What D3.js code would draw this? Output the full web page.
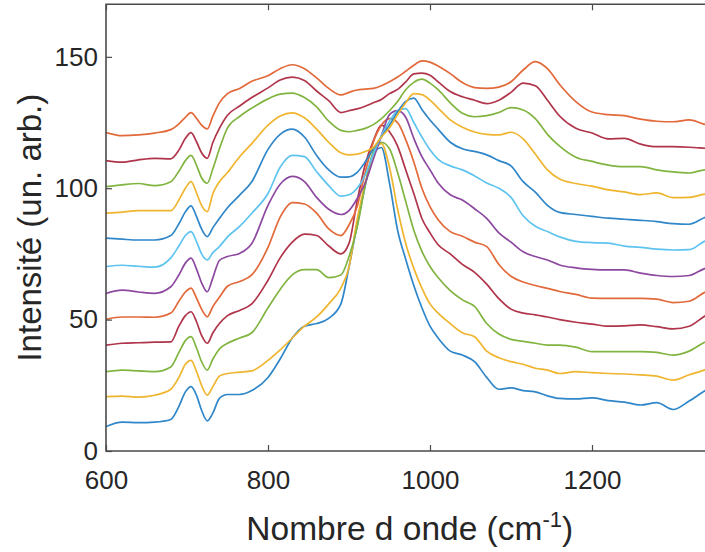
<!DOCTYPE html>
<html>
<head>
<meta charset="utf-8">
<script src="https://cdn.jsdelivr.net/npm/d3@7"></script>
<style>
  html, body { margin: 0; padding: 0; background: #fff; }
  svg { display: block; }
  text { font-family: "Liberation Sans", Arial, Helvetica, sans-serif; fill: #262626; }
</style>
</head>
<body>
<svg id="chart" width="705" height="552"></svg>
<script>
// Wavenumber grid (cm^-1)
const wavenumbers = [600, 620, 640, 660, 680, 690, 698, 705, 712, 718, 725, 732, 740, 750, 765, 780, 800, 815, 830, 845, 860, 875, 890, 900, 910, 920, 930, 940, 950, 960, 970, 980, 990, 1000, 1010, 1025, 1040, 1055, 1070, 1085, 1100, 1115, 1130, 1145, 1160, 1180, 1200, 1220, 1240, 1260, 1280, 1300, 1320, 1340, 1350];

// Spectra, from bottom to top
const s1  = [9.3, 11, 10.8, 11, 12, 17, 22.5, 24.5, 21, 15.5, 11.5, 14.5, 20, 21.5, 21.5, 23, 28, 35, 43, 47.5, 48.5, 50.5, 56, 70, 86, 101, 113, 115.5, 102, 84, 73, 63, 54.5, 47.5, 43, 38, 36.5, 34, 28, 23.5, 24, 23, 22.5, 21, 20, 19.8, 20.2, 19.2, 18.6, 17.5, 18.4, 15.8, 19, 23, 24.5];
const s2  = [20.7, 20.9, 20.5, 21.2, 23.5, 28, 33, 34.5, 30, 25, 21.3, 24.5, 28.5, 29.5, 30, 30.5, 34.5, 38.5, 43, 47.5, 51, 56, 62, 70, 88, 102, 113, 117, 108, 92, 79, 69.5, 62, 56, 52.5, 48.5, 45, 43.5, 38, 35.5, 34, 33, 31.5, 30.8, 29.5, 30.2, 29.8, 29.5, 29.3, 29, 28.5, 27, 29, 31, 32.5];
const s3  = [30.2, 30.8, 30.5, 30.2, 32, 37.5, 42, 43.5, 39, 34, 30.8, 35, 38.8, 41, 43, 45, 54.5, 61.5, 67, 69, 69, 66, 67, 74, 85, 101, 114, 117.5, 115, 106, 95, 84, 76, 70.2, 66, 61, 57.5, 55, 48.5, 44.5, 42.5, 41.7, 41, 40.3, 40.3, 39.5, 37.8, 37.8, 37.8, 37.8, 37.5, 36.5, 38, 41.5, 42.5];
const s4  = [40.3, 41, 41.2, 41.4, 41.5, 47.5, 51.5, 53, 49, 44, 41, 45, 48.5, 51.5, 53.5, 56, 65, 73.5, 79.5, 82.5, 82, 78, 75, 79, 95, 109, 118, 124, 121.5, 116, 107, 98, 88.5, 83, 78.5, 75, 71, 68, 63.5, 58, 54, 52.5, 51.8, 51, 50, 49, 48.3, 47.5, 47.6, 48, 47.3, 46.5, 47.5, 51.5, 53];
const s5  = [50.1, 51, 51, 50.9, 52.5, 57, 60.5, 62, 58, 54, 51.1, 55, 58.5, 62.7, 64.5, 67, 77.5, 89, 94.5, 94, 90.5, 84.5, 82, 86, 93, 106, 117.5, 124, 126.5, 125, 118.5, 110, 100, 93, 88, 83.5, 81.7, 79.5, 77.8, 71, 66.5, 64.3, 63, 61.9, 60.7, 59.6, 58.2, 58.1, 58.1, 58.1, 57.8, 56.5, 57, 60.5, 61.5];
const s6  = [60, 61.2, 60.5, 60, 62.5, 67, 71.5, 73.4, 69, 64, 60.6, 66, 72.5, 74, 75.2, 79, 93.5, 101.5, 104.5, 102.5, 96.5, 92, 90, 91.5, 96, 102, 111, 120, 128, 129.5, 127, 119, 112, 107, 102, 97.5, 95.5, 92.2, 88.5, 83, 79.5, 75.8, 74, 72.7, 70.8, 69.7, 69.1, 68.9, 68.9, 67.7, 66.8, 66.4, 66.8, 69.5, 70];
const s7  = [70.2, 70.7, 70.3, 70, 73.5, 78, 82, 83.5, 79.5, 75, 72.7, 75.5, 77.8, 81.5, 85.5, 90.5, 98, 108, 112.5, 112, 106.3, 101, 97, 97.5, 100, 105, 113, 120, 125.5, 129.5, 130.3, 125, 119.5, 114.6, 111, 108.5, 107, 104.7, 102, 100, 96.5, 89.5, 85.5, 83.5, 81.5, 79.8, 79.3, 79.1, 78, 77.5, 76.8, 76.5, 76.6, 80, 81];
const s8  = [81, 80.6, 80.3, 80.3, 82, 86.5, 91, 93.3, 89, 84.5, 81.6, 85, 88.5, 92.6, 97.4, 102.5, 114.8, 120.5, 122.5, 119.5, 112.5, 107, 104.2, 104.3, 106, 110, 115, 119.5, 124, 129, 133, 134.3, 130, 126, 122.5, 117.5, 115, 114, 112.7, 110.5, 108.5, 102.5, 98.5, 93.5, 90.8, 90, 89.3, 88.6, 88.2, 87.8, 87.3, 86.5, 86.3, 89, 90];
const s9  = [90.5, 90.9, 91.5, 91.5, 91.5, 95.5, 100, 102.5, 98, 93.5, 91.1, 98, 102.5, 106, 112, 117, 124, 127.5, 128.7, 126.8, 122.5, 117.5, 113.5, 112.7, 113, 114, 115.5, 119.5, 123, 128, 132.5, 136, 135.6, 133.5, 130.5, 126, 123.2, 121.4, 120.5, 120.3, 121.3, 118.8, 113, 107, 103.5, 101.8, 100.8, 99.4, 98.6, 97.6, 98.2, 96.4, 96.5, 97.8, 98];
const s10 = [100.6, 101.3, 101.8, 101, 102.5, 106.5, 110.5, 112.5, 108.5, 104, 101.9, 107.5, 115, 123, 127.3, 130.5, 134, 135.8, 136.2, 134.5, 131, 125.5, 122, 121.5, 122, 122.8, 124.2, 126.5, 129.5, 133, 137.5, 140.3, 141.5, 140, 137.5, 132.5, 128.5, 127.2, 127.6, 128.8, 130.7, 129.8, 126.5, 120.5, 116, 111.8, 110.2, 108.8, 108.2, 108.2, 107, 106.2, 105.8, 107, 107];
const s11 = [110.5, 109.9, 110.8, 111.4, 111.2, 114.5, 119, 121.2, 117.5, 113.5, 111.4, 117.5, 122.8, 127.8, 131.3, 134.5, 138.2, 141.2, 142.3, 141, 137, 133.3, 128.8, 129.5, 130.2, 131.2, 132.5, 133.8, 136, 137.6, 140.5, 143.5, 143.8, 143, 140.5, 136.8, 134.8, 133.5, 132.2, 133.5, 136.5, 140, 139, 133.5, 127.5, 122.8, 121, 118.8, 119, 116.8, 115.8, 115.8, 115.6, 115.2, 115];
const s12 = [121.2, 120, 120.3, 121, 122.3, 124.5, 127, 128.8, 126.5, 124, 122.6, 127.5, 132.5, 136, 138, 140.7, 142.8, 145.5, 147, 145.5, 142, 138, 135.5, 136.5, 137.4, 137.7, 138, 139, 140.5, 142.3, 144.5, 146.8, 148.5, 148, 146.5, 143.6, 140.2, 138.3, 138, 138.5, 140.5, 145, 148.2, 145.5, 139.5, 133, 129, 128, 127.6, 126.3, 125.5, 125.3, 126, 124.3, 124];

const spectra = [s1, s2, s3, s4, s5, s6, s7, s8, s9, s10, s11, s12];
const seriesColors = ["#2f86c8", "#efb52f", "#81b440", "#b0354a", "#e2693a", "#8d48a0", "#5ec4ef",
                      "#2f86c8", "#efb52f", "#81b440", "#b0354a", "#e2693a"];

const xTicks = [600, 800, 1000, 1200];
const yTicks = [0, 50, 100, 150];
const xDomain = [600, 1350];
const yDomain = [0, 170];
const xLabel = "Nombre d onde (cm";
const xLabelSup = "-1";
const yLabel = "Intensité (un. arb.)";

const svg = d3.select("#chart");
const mLeft = 106, mRight = 713.5, mTop = 4.3, mBottom = 451;

const x = d3.scaleLinear().domain(xDomain).range([mLeft, mRight]);
const y = d3.scaleLinear().domain(yDomain).range([mBottom, mTop]);

svg.append("defs").append("clipPath").attr("id", "clip")
  .append("rect").attr("x", mLeft).attr("y", mTop).attr("width", mRight - mLeft).attr("height", mBottom - mTop);

const line = d3.line()
  .x((d, i) => x(wavenumbers[i]))
  .y(d => y(d))
  .curve(d3.curveMonotoneX);

svg.append("g").attr("clip-path", "url(#clip)")
  .selectAll("path").data(spectra).join("path")
  .attr("d", line)
  .attr("fill", "none")
  .attr("stroke", (d, i) => seriesColors[i])
  .attr("stroke-width", 1.7)
  .attr("stroke-linejoin", "round");

const axisColor = "#4a4a4a";
const tickLen = 6;

// bottom axis
const gx = svg.append("g").attr("transform", `translate(0,${mBottom})`)
  .call(d3.axisBottom(x).tickValues(xTicks).tickSizeInner(-tickLen).tickSizeOuter(0).tickPadding(20).tickFormat(d3.format("d")));
gx.select(".domain").remove();
gx.selectAll(".tick line").attr("stroke", axisColor).attr("stroke-width", 1.2);
gx.selectAll(".tick text").attr("font-size", 26).attr("fill", "#262626")
  .style("font-family", '"Liberation Sans", Arial, sans-serif');

// top ticks
const gxt = svg.append("g").attr("transform", `translate(0,${mTop})`)
  .call(d3.axisTop(x).tickValues(xTicks).tickSizeInner(-tickLen).tickSizeOuter(0).tickFormat(""));
gxt.select(".domain").remove();
gxt.selectAll(".tick line").attr("stroke", axisColor).attr("stroke-width", 1.2);

// left axis
const gy = svg.append("g").attr("transform", `translate(${mLeft},0)`)
  .call(d3.axisLeft(y).tickValues(yTicks).tickSizeInner(-tickLen).tickSizeOuter(0).tickPadding(8));
gy.select(".domain").remove();
gy.selectAll(".tick line").attr("stroke", axisColor).attr("stroke-width", 1.2);
gy.selectAll(".tick text").attr("font-size", 26).attr("fill", "#262626").attr("dy", "0.32em")
  .style("font-family", '"Liberation Sans", Arial, sans-serif');

// box
svg.append("path")
  .attr("d", `M${mLeft},${mTop}H${mRight}V${mBottom}H${mLeft}Z`)
  .attr("fill", "none").attr("stroke", axisColor).attr("stroke-width", 1.6);

// x label
const xl = svg.append("text").attr("x", (mLeft + mRight) / 2).attr("y", 540)
  .attr("text-anchor", "middle").attr("font-size", 33.5);
xl.append("tspan").text(xLabel);
xl.append("tspan").attr("dy", -13).attr("font-size", 22).text(xLabelSup);
xl.append("tspan").attr("dy", 13).text(")");

// y label
svg.append("text").attr("transform", `translate(41,${(mTop + mBottom) / 2}) rotate(-90)`)
  .attr("text-anchor", "middle").attr("font-size", 33).text(yLabel);
</script>
</body>
</html>
